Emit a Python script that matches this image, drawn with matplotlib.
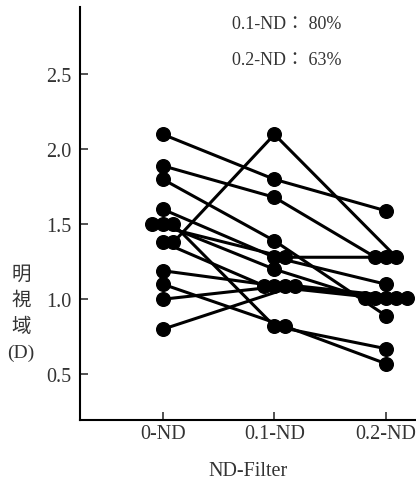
import matplotlib
matplotlib.use('Agg')
import matplotlib.pyplot as plt


filters = ['0-ND', '0.1-ND', '0.2-ND']
y_ticks = [0.5, 1.0, 1.5, 2.0, 2.5]
y_tick_labels = ['0.5', '1.0', '1.5', '2.0', '2.5']

# one entry per subject
nd_00 = [2.10, 1.89, 1.80, 1.60, 1.50, 1.50, 1.50, 1.38, 1.38, 1.19, 1.10, 1.00, 0.80]
nd_01 = [1.80, 1.68, 1.39, 1.28, 1.28, 1.20, 0.82, 1.09, 2.10, 1.09, 0.82, 1.09, 1.09]
nd_02 = [1.59, 1.28, 0.89, 1.10, 1.28, 1.01, 0.67, 1.01, 1.28, 1.01, 0.57, 1.01, 1.01]

ratio_labels = ['0.1-ND', '0.2-ND']
ratio_values = ['80%', '63%']

DOT_STEP = 0.094  # horizontal shift between tied dots


def tie_offsets(values):
    # spread equal values side by side so every dot stays visible
    offsets = [0.0] * len(values)
    groups = dict()
    for i, v in enumerate(values):
        groups.setdefault(v, []).append(i)
    for members in groups.values():
        n = len(members)
        for k, i in enumerate(members):
            offsets[i] = (k - (n - 1) // 2) * DOT_STEP
    return offsets


def draw(ax):
    columns = [nd_00, nd_01, nd_02]
    shifts = [tie_offsets(col) for col in columns]
    for s in range(len(nd_00)):
        xs = [c + shifts[c][s] for c in range(len(columns))]
        ys = [columns[c][s] for c in range(len(columns))]
        ax.plot(xs, ys, '-', color='black', lw=2.2, solid_capstyle='round')
        ax.plot(xs, ys, 'o', color='black', ms=9.8, mec='black')

    ax.set_xlim(-0.744, 2.27)
    ax.set_ylim(0.194, 2.95)
    ax.set_xticks(range(len(filters)))
    ax.set_xticklabels(filters)
    ax.set_yticks(y_ticks)
    ax.set_yticklabels(y_tick_labels)
    for side in ['top', 'right']:
        ax.spines[side].set_visible(False)
    for side in ['left', 'bottom']:
        ax.spines[side].set_linewidth(1.5)
    ax.tick_params(axis='both', direction='in', length=6, width=1.2, labelsize=14.5, colors='#333333')
    ax.tick_params(axis='y', pad=6)
    ax.tick_params(axis='x', pad=3)
    ax.set_xlabel('ND-Filter', fontsize=14.5, color='#333333', labelpad=13)

    for k, (lab, val) in enumerate(zip(ratio_labels, ratio_values)):
        ax.text(0.452, 0.961 - k * 0.087, lab + '：' + ' ' + val, transform=ax.transAxes,
                ha='left', va='center', fontsize=13, color='#333333',
                family=['Liberation Serif', 'Noto Sans CJK JP'])


plt.rcParams['font.family'] = ['Liberation Serif', 'Noto Sans CJK JP']
fig = plt.figure(figsize=(4.16, 4.89), dpi=100)
ax = fig.add_axes([80 / 416, 68 / 489, 336 / 416, 413 / 489])
draw(ax)
fig.text(21 / 416, 175 / 489, '明\n視\n域\n(D)', ha='center', va='center', fontsize=14,
         linespacing=1.62, color='#333333', family=['Liberation Serif', 'Noto Sans CJK JP'])
fig.savefig('out.png', dpi=100)
